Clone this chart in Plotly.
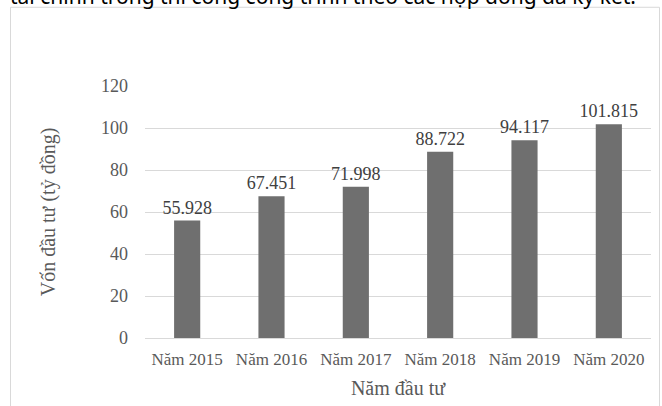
import plotly.graph_objects as go

categories = ["Năm 2015", "Năm 2016", "Năm 2017", "Năm 2018", "Năm 2019", "Năm 2020"]
values = [55.928, 67.451, 71.998, 88.722, 94.117, 101.815]
y_ticks = [0, 20, 40, 60, 80, 100, 120]

W, H = 662, 406
L, R, T, B = 145, 11, 86, 65.5
pw = W - L - R
ph = H - T - B

def px_x(px):
    return (px - L) / pw

def px_y(py):
    return (H - B - py) / ph

serif = "Liberation Serif"

fig = go.Figure()
fig.add_trace(go.Bar(
    x=categories, y=values,
    marker=dict(color="#6f6f6f", line=dict(width=0)),
    text=[f"{v:.3f}" for v in values],
    textposition="outside",
    constraintext="none",
    textfont=dict(family=serif, size=18, color="#404040"),
    cliponaxis=False,
))

fig.update_layout(
    width=W, height=H,
    margin=dict(l=L, r=R, t=T, b=B, pad=0),
    paper_bgcolor="white", plot_bgcolor="white",
    bargap=0.69,
    showlegend=False,
    xaxis=dict(
        tickfont=dict(family=serif, size=17, color="#595959"),
        showgrid=False, showline=True, linecolor="#d9d9d9", linewidth=1,
        ticks="", ticklabelstandoff=6,
        title=dict(text="Năm đầu tư", font=dict(family=serif, size=20, color="#595959"), standoff=12),
    ),
    yaxis=dict(
        range=[0, 120], tickvals=y_ticks,
        tickfont=dict(family=serif, size=18, color="#595959"),
        showgrid=True, gridcolor="#d9d9d9", gridwidth=1,
        zeroline=False, ticks="", ticklabelstandoff=16,
        title=dict(text="Vốn đầu tư (tỷ đồng)", font=dict(family=serif, size=20, color="#595959"), standoff=40),
    ),
    font=dict(family=serif),
    shapes=[dict(
        type="rect", xref="paper", yref="paper",
        x0=px_x(10.5), x1=px_x(659.5), y0=px_y(420), y1=px_y(6.5),
        line=dict(color="#d9d9d9", width=1), fillcolor="rgba(0,0,0,0)", layer="below",
    )],
    annotations=[dict(
        text="tài chính trong thi công công trình theo các hợp đồng đã ký kết.",
        xref="paper", yref="paper", x=px_x(638), y=px_y(11),
        xanchor="right", yanchor="bottom", showarrow=False,
        font=dict(family="Noto Sans", size=21, color="#000000"),
    )],
)

fig.write_html("out.html")
